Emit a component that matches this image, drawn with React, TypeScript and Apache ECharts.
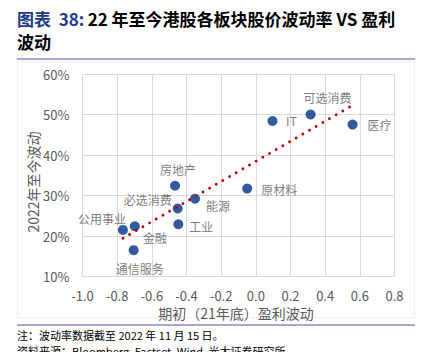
import React, { useEffect, useRef } from "react";
import * as echarts from "echarts";

const sectors = ["公用事业", "金融", "通信服务", "房地产", "必选消费", "工业", "能源", "原材料", "IT", "可选消费", "医疗"];
const earningsVol = [-0.767, -0.698, -0.705, -0.466, -0.451, -0.447, -0.351, -0.05, 0.096, 0.316, 0.558];
const priceVol = [21.5, 22.4, 16.5, 32.4, 26.8, 22.9, 29.2, 31.7, 48.4, 50.0, 47.5];
const labelOffsets: [number, number][] = [
  [-21, -11], [20, 11], [6, 18], [3, -16], [-30, -9], [23, 2], [23, 7], [32, 1], [19, 0], [17, -17], [27, 0],
];
const xTicks = { min: -1.0, max: 0.8, interval: 0.2 };
const yTicks = { min: 10, max: 60, interval: 10 };

const FONT = "'Noto Sans CJK SC', 'Noto Sans', sans-serif";

function regression(xs: number[], ys: number[]) {
  const n = xs.length;
  const mx = xs.reduce((a, b) => a + b, 0) / n;
  const my = ys.reduce((a, b) => a + b, 0) / n;
  let sxy = 0, sxx = 0;
  for (let i = 0; i < n; i++) {
    sxy += (xs[i] - mx) * (ys[i] - my);
    sxx += (xs[i] - mx) * (xs[i] - mx);
  }
  const b = sxy / sxx;
  return { a: my - b * mx, b };
}

export default function App() {
  const ref = useRef<HTMLDivElement>(null);
  useEffect(() => {
    if (!ref.current) return;
    const chart = echarts.init(ref.current, undefined, { renderer: "svg" });
    const { a, b } = regression(earningsVol, priceVol);
    const xmin = Math.min(...earningsVol);
    const xmax = Math.max(...earningsVol);
    const trend = [
      [xmin, a + b * xmin],
      [xmax, a + b * xmax],
    ];
    chart.setOption({
      animation: false,
      backgroundColor: "#ffffff",
      grid: { left: 82.5, right: 36.5, top: 74, bottom: 75.5, containLabel: false },
      xAxis: {
        type: "value",
        min: xTicks.min,
        max: xTicks.max,
        interval: xTicks.interval,
        axisLine: { show: true, lineStyle: { color: "#D9D9D9", width: 1 } },
        axisTick: { show: false },
        splitLine: { show: true, lineStyle: { color: "#D9D9D9", width: 1 } },
        axisLabel: {
          color: "#595959",
          fontSize: 13,
          lineHeight: 13,
          fontFamily: FONT,
          margin: 12,
          formatter: (v: number) => v.toFixed(1),
        },
      },
      yAxis: {
        type: "value",
        min: yTicks.min,
        max: yTicks.max,
        interval: yTicks.interval,
        axisLine: { show: true, lineStyle: { color: "#D9D9D9", width: 1 } },
        axisTick: { show: false },
        splitLine: { show: true, lineStyle: { color: "#D9D9D9", width: 1 } },
        axisLabel: {
          color: "#595959",
          fontSize: 13,
          fontFamily: FONT,
          margin: 13,
          formatter: (v: number) => `${v}%`,
        },
      },
      series: [
        {
          type: "scatter",
          z: 2,
          symbolSize: 10,
          itemStyle: { color: "#002F87" },
          data: sectors.map((s, i) => ({
            name: s,
            value: [earningsVol[i], priceVol[i]],
            label: {
              show: true,
              position: "inside",
              offset: labelOffsets[i],
              formatter: s,
              color: "#595959",
              fontSize: 12,
              fontFamily: FONT,
            },
          })),
        },
        {
          type: "line",
          z: 3,
          symbol: "none",
          silent: true,
          data: trend,
          lineStyle: { color: "#C00000", width: 2.8, type: [0.1, 7.6], cap: "round" },
        },
      ],
      graphic: [
        {
          type: "rect",
          silent: true,
          shape: { x: 17.5, y: 61.5, width: 397, height: 256 },
          style: { fill: "none", stroke: "#F0F0F0", lineWidth: 1 },
          z: -1,
        },
        {
          type: "text",
          x: 17,
          y: 18.5,
          style: {
            text: "{b|图表  38:} {k|22 年至今港股各板块股价波动率 VS 盈利}",
            verticalAlign: "middle",
            rich: {
              b: { fontSize: 17, fontWeight: "bold", fill: "#1F3A8A", fontFamily: FONT },
              k: { fontSize: 17, fontWeight: "bold", fill: "#000000", fontFamily: FONT },
            },
          },
        },
        {
          type: "text",
          x: 17,
          y: 41.5,
          style: {
            text: "波动",
            verticalAlign: "middle",
            fontSize: 17,
            fontWeight: "bold",
            fill: "#000000",
            fontFamily: FONT,
          },
        },
        {
          type: "line",
          shape: { x1: 17, y1: 59, x2: 415, y2: 59 },
          style: { stroke: "#A9A7D0", lineWidth: 2 },
        },
        {
          type: "text",
          x: 33,
          y: 182,
          rotation: Math.PI / 2,
          style: {
            text: "2022年至今波动",
            align: "center",
            verticalAlign: "middle",
            fontSize: 14,
            fill: "#595959",
            fontFamily: FONT,
          },
        },
        {
          type: "text",
          x: 236,
          y: 313,
          style: {
            text: "期初（21年底）盈利波动",
            align: "center",
            verticalAlign: "middle",
            fontSize: 14,
            lineHeight: 14,
            fill: "#595959",
            fontFamily: FONT,
          },
        },
        {
          type: "line",
          shape: { x1: 17, y1: 325, x2: 415, y2: 325 },
          style: { stroke: "#A9A7D0", lineWidth: 2 },
        },
        {
          type: "text",
          x: 17,
          y: 334.5,
          style: {
            text: "注：波动率数据截至 2022 年 11 月 15 日。",
            verticalAlign: "middle",
            fontSize: 11,
            lineHeight: 12,
            fill: "#000000",
            fontFamily: FONT,
          },
        },
        {
          type: "text",
          x: 17,
          y: 350.5,
          style: {
            text: "资料来源：Bloomberg, Factset, Wind, 光大证券研究所",
            verticalAlign: "middle",
            fontSize: 11,
            lineHeight: 12,
            fill: "#000000",
            fontFamily: FONT,
          },
        },
      ],
    });
    return () => chart.dispose();
  }, []);
  return (
    <div
      ref={ref}
      style={{ position: "fixed", left: 0, top: 0, width: 431, height: 352 }}
    />
  );
}
